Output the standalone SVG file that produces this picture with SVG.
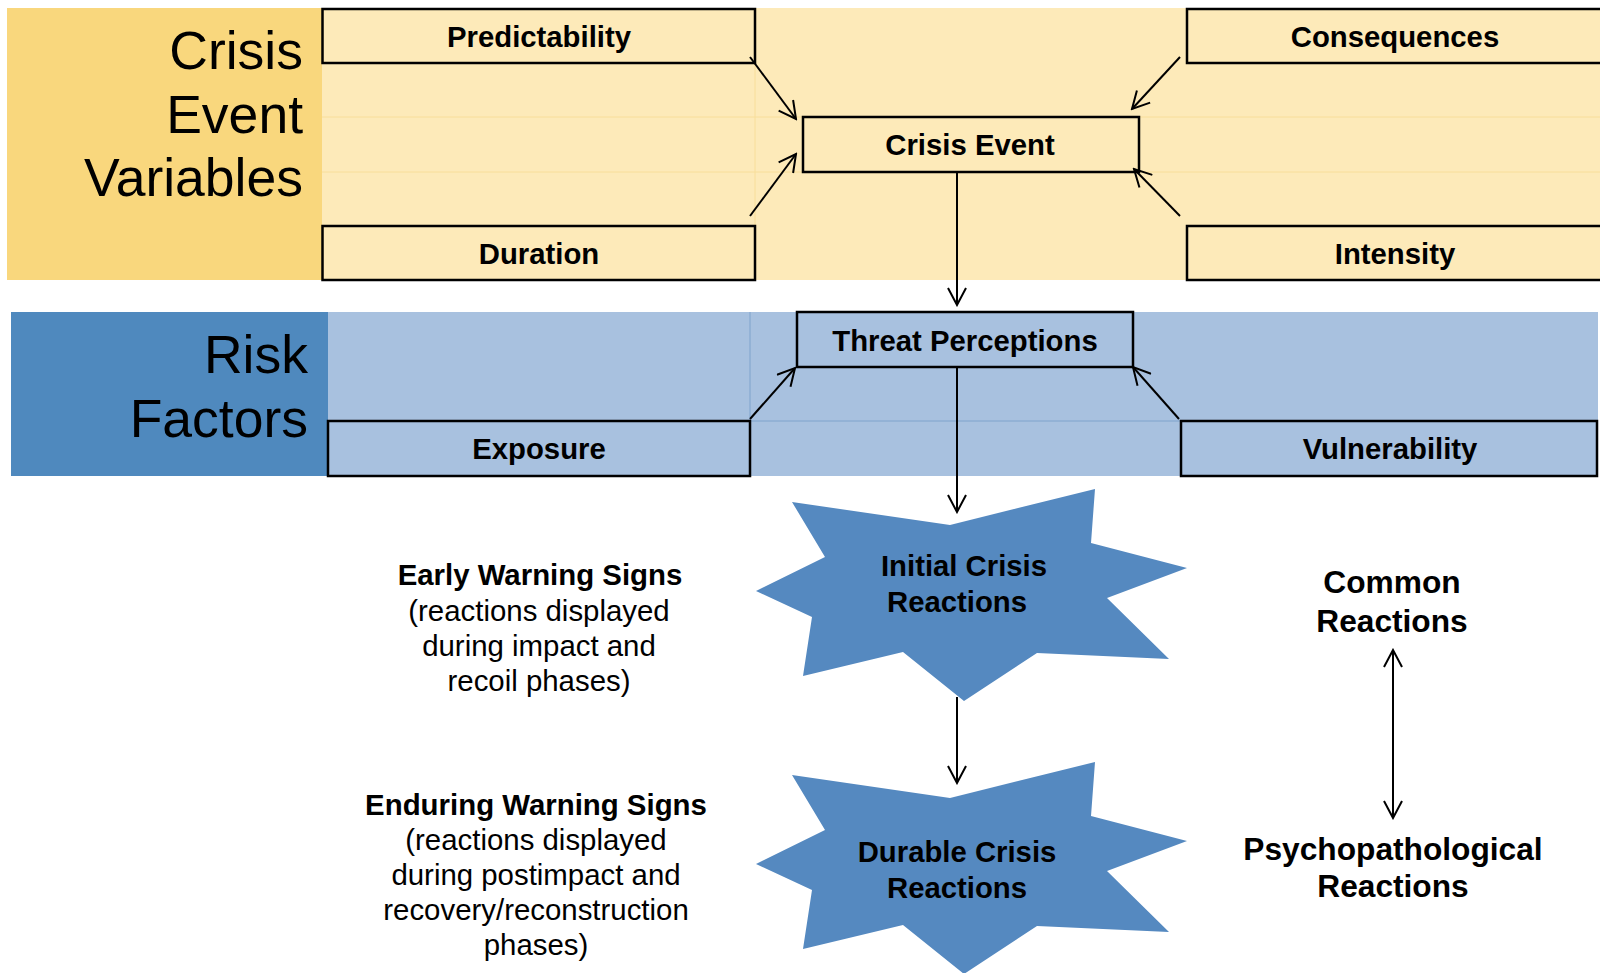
<svg xmlns="http://www.w3.org/2000/svg" width="1600" height="973" viewBox="0 0 1600 973">
<style>
.box{stroke:#000;stroke-width:2.5}
.yl{fill:#fdeab9}
.bl{fill:#a8c1df}
.lbl{font-family:"Liberation Sans",Arial,sans-serif;font-weight:bold;font-size:29.3px;fill:#000;text-anchor:middle}
.big{font-family:"Liberation Sans",Arial,sans-serif;font-size:53.5px;fill:#000;text-anchor:end}
.side{font-family:"Liberation Sans",Arial,sans-serif;font-size:29.4px;fill:#000;text-anchor:middle}
.sideb{font-weight:bold}
.rt{font-family:"Liberation Sans",Arial,sans-serif;font-weight:bold;font-size:31.7px;fill:#000;text-anchor:middle}
.star{fill:#5589c0}
.con{stroke:#000;stroke-width:2;fill:none;marker-end:url(#ah)}
</style>
<defs>
<marker id="ah" viewBox="0 0 20 20" refX="18" refY="10" markerWidth="20" markerHeight="20" markerUnits="userSpaceOnUse" orient="auto-start-reverse">
<path d="M1,1 L18,10 L1,19" fill="none" stroke="#000" stroke-width="2"/>
</marker>
<polygon id="starShape" points="792,502 950,525 1095,489 1091,543 1187,568 1107,598 1169,659 1037,653 964,701 903,652 803,676 812,617 756,591 825,557"/>
</defs>
<rect width="1600" height="973" fill="#fff"/>
<g id="band-crisis">
<rect x="7" y="8" width="1593" height="272" fill="#fdeab9"/>
<rect x="7" y="8" width="315" height="272" fill="#f9d77d"/>
<line x1="322" y1="117" x2="1600" y2="117" stroke="#f8de9a" stroke-width="1"/>
<line x1="322" y1="172" x2="1600" y2="172" stroke="#f8de9a" stroke-width="1"/>
<line x1="755" y1="63" x2="755" y2="226" stroke="#f8de9a" stroke-width="1"/>
<text class="big" x="303" y="69">Crisis</text>
<text class="big" x="303" y="133">Event</text>
<text class="big" x="303" y="196">Variables</text>
</g>
<g id="band-risk">
<rect x="11" y="312" width="1587" height="164" fill="#a8c1df"/>
<rect x="11" y="312" width="317" height="164" fill="#4f89be"/>
<line x1="750" y1="421" x2="1181" y2="421" stroke="#7fa3cc" stroke-width="1"/>
<line x1="750" y1="312" x2="750" y2="421" stroke="#7fa3cc" stroke-width="1"/>
<text class="big" x="308" y="373">Risk</text>
<text class="big" x="308" y="437">Factors</text>
</g>
<g id="node-predictability">
<rect class="box yl" x="322.5" y="9" width="432.5" height="54"/>
<text class="lbl" x="539" y="47">Predictability</text>
</g>
<g id="node-duration">
<rect class="box yl" x="322.5" y="226" width="432.5" height="54"/>
<text class="lbl" x="539" y="264">Duration</text>
</g>
<g id="node-consequences">
<rect class="box yl" x="1187" y="9" width="420" height="54"/>
<text class="lbl" x="1395" y="47">Consequences</text>
</g>
<g id="node-intensity">
<rect class="box yl" x="1187" y="226" width="420" height="54"/>
<text class="lbl" x="1395" y="264">Intensity</text>
</g>
<g id="node-crisis-event">
<rect class="box yl" x="803" y="117" width="336" height="55"/>
<text class="lbl" x="970" y="155">Crisis Event</text>
</g>
<g id="node-threat">
<rect class="box bl" x="797" y="312" width="336" height="55"/>
<text class="lbl" x="965" y="351">Threat Perceptions</text>
</g>
<g id="node-exposure">
<rect class="box bl" x="328" y="421" width="422" height="55"/>
<text class="lbl" x="539" y="459">Exposure</text>
</g>
<g id="node-vulnerability">
<rect class="box bl" x="1181" y="421" width="416" height="55"/>
<text class="lbl" x="1390" y="459">Vulnerability</text>
</g>
<g id="node-initial">
<use href="#starShape" class="star"/>
<text class="lbl" x="964" y="576">Initial Crisis</text>
<text class="lbl" x="957" y="612">Reactions</text>
</g>
<g id="node-durable">
<use href="#starShape" class="star" transform="translate(0,273)"/>
<text class="lbl" x="957" y="862">Durable Crisis</text>
<text class="lbl" x="957" y="898">Reactions</text>
</g>
<g id="node-early">
<text class="side sideb" x="540" y="585">Early Warning Signs</text>
<text class="side" x="539" y="621">(reactions displayed</text>
<text class="side" x="539" y="656">during impact and</text>
<text class="side" x="539" y="691">recoil phases)</text>
</g>
<g id="node-enduring">
<text class="side sideb" x="536" y="815">Enduring Warning Signs</text>
<text class="side" x="536" y="850">(reactions displayed</text>
<text class="side" x="536" y="885">during postimpact and</text>
<text class="side" x="536" y="920">recovery/reconstruction</text>
<text class="side" x="536" y="955">phases)</text>
</g>
<g id="node-common">
<text class="rt" x="1392" y="593">Common</text>
<text class="rt" x="1392" y="632">Reactions</text>
</g>
<g id="node-psycho">
<text class="rt" x="1393" y="860">Psychopathological</text>
<text class="rt" x="1393" y="897">Reactions</text>
</g>
<g id="connectors">
<line class="con" x1="750" y1="57" x2="796" y2="119"/>
<line class="con" x1="750" y1="216" x2="796" y2="154"/>
<line class="con" x1="1180" y1="57" x2="1132" y2="109"/>
<line class="con" x1="1180" y1="216" x2="1134" y2="169"/>
<line class="con" x1="957" y1="172" x2="957" y2="305"/>
<line class="con" x1="750" y1="419" x2="795" y2="368"/>
<line class="con" x1="1179" y1="419" x2="1133" y2="367"/>
<line class="con" x1="957" y1="367" x2="957" y2="512"/>
<line class="con" x1="957" y1="697" x2="957" y2="783"/>
<line class="con" x1="1393" y1="650" x2="1393" y2="818" style="marker-start:url(#ah)"/>
</g>
</svg>
